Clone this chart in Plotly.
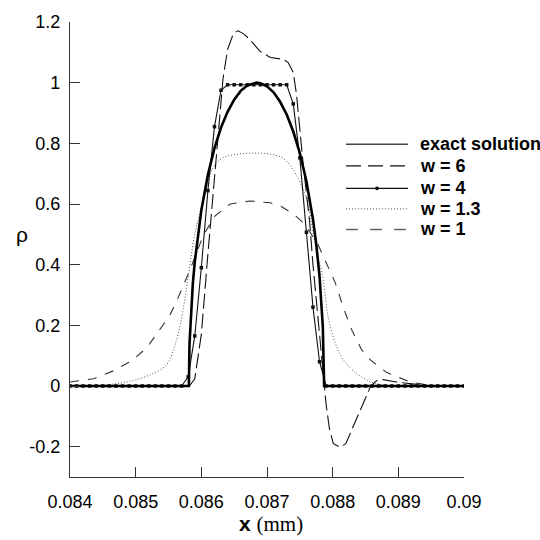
import plotly.graph_objects as go

# ---------------- data ----------------
exact_x = [0.084, 0.08581, 0.08582, 0.08584, 0.08587, 0.0859, 0.08595, 0.086, 0.0861, 0.0862,
           0.0863, 0.0864, 0.0865, 0.0866, 0.0867, 0.0868, 0.08684, 0.0869, 0.087, 0.0871,
           0.0872, 0.0873, 0.0874, 0.0875, 0.0876, 0.0877, 0.08775, 0.0878, 0.08783, 0.08785,
           0.08787, 0.09]
exact_y = [0.0, 0.0, 0.139, 0.240, 0.336, 0.409, 0.503, 0.579, 0.696, 0.784,
           0.852, 0.904, 0.944, 0.973, 0.991, 0.999, 1.0, 0.998, 0.988, 0.968,
           0.937, 0.895, 0.839, 0.768, 0.675, 0.550, 0.468, 0.362, 0.276, 0.196,
           0.0, 0.0]

w6_x = [0.084, 0.0857, 0.0858, 0.0859, 0.086, 0.08606, 0.0861, 0.0862, 0.08623, 0.0863,
        0.08633, 0.0864, 0.08649, 0.08656, 0.08665, 0.08674, 0.08689, 0.08705, 0.08725, 0.08732,
        0.0874, 0.08745, 0.0875, 0.08755, 0.0876, 0.08765, 0.0877, 0.0878, 0.08787, 0.0879,
        0.08795, 0.08801, 0.08811, 0.0882, 0.0883, 0.0884, 0.0885, 0.08858, 0.08867, 0.08877,
        0.08897, 0.08923, 0.08943, 0.0897, 0.09]
w6_y = [0.0, 0.0, -0.005, 0.024, 0.17, 0.335, 0.435, 0.685, 0.765, 0.94,
        1.013, 1.11, 1.163, 1.171, 1.16, 1.142, 1.104, 1.083, 1.077, 1.067,
        1.034, 0.96, 0.84, 0.733, 0.636, 0.54, 0.40, 0.165, 0.0, -0.06,
        -0.14, -0.19, -0.202, -0.19, -0.14, -0.09, -0.04, 0.0, 0.018, 0.021,
        0.013, 0.007, 0.002, 0.0, 0.0]

w4_x = [0.0840, 0.0841, 0.0842, 0.0843, 0.0844, 0.0845, 0.0846, 0.0847, 0.0848, 0.0849,
        0.0850, 0.0851, 0.0852, 0.0853, 0.0854, 0.0855, 0.0856, 0.0857, 0.0858, 0.0859,
        0.0860, 0.0861, 0.0862, 0.0863, 0.0864, 0.0865, 0.0866, 0.0867, 0.0868, 0.0869,
        0.0870, 0.0871, 0.0872, 0.0873, 0.0874, 0.0875, 0.0876, 0.0877, 0.0878, 0.0879,
        0.0880, 0.0881, 0.0882, 0.0883, 0.0884, 0.0885, 0.0886, 0.0887, 0.0888, 0.0889,
        0.0890, 0.0891, 0.0892, 0.0893, 0.0894, 0.0895, 0.0896, 0.0897, 0.0898, 0.0899,
        0.0900]
w4_y = [0.0, 0.0, 0.0, 0.0, 0.0, 0.0, 0.0, 0.0, 0.0, 0.0,
        0.0, 0.0, 0.0, 0.0, 0.0, 0.0, 0.0, 0.0, 0.03, 0.165,
        0.39, 0.644, 0.855, 0.975, 0.993, 0.993, 0.993, 0.993, 0.993, 0.993,
        0.993, 0.993, 0.993, 0.993, 0.93, 0.752, 0.507, 0.26, 0.08, 0.0,
        0.0, 0.0, 0.0, 0.0, 0.0, 0.0, 0.0, 0.0, 0.0, 0.0,
        0.0, 0.0, 0.0, 0.0, 0.0, 0.0, 0.0, 0.0, 0.0, 0.0,
        0.0]

w13_x = [0.084, 0.0846, 0.0849, 0.0852, 0.08547, 0.08562, 0.08572, 0.0858, 0.0859, 0.08606,
         0.08618, 0.08631, 0.08651, 0.087, 0.08725, 0.0874, 0.08753, 0.08763, 0.0877, 0.08778,
         0.08783, 0.08788, 0.08793, 0.08804, 0.08816, 0.08834, 0.0885, 0.08862, 0.0888, 0.089,
         0.09]
w13_y = [0.0, 0.005, 0.015, 0.035, 0.07, 0.15, 0.25, 0.36, 0.50, 0.636,
         0.72, 0.75, 0.763, 0.766, 0.75, 0.712, 0.658, 0.594, 0.507, 0.42,
         0.38, 0.31, 0.228, 0.142, 0.088, 0.045, 0.022, 0.01, 0.003, 0.0,
         0.0]

w1_x = [0.084, 0.08436, 0.08466, 0.08494, 0.08517, 0.08537, 0.08552, 0.08565, 0.08583, 0.08603,
        0.08621, 0.08644, 0.08674, 0.08705, 0.0872, 0.0874, 0.08757, 0.08778, 0.08791, 0.08804,
        0.08816, 0.08829, 0.08844, 0.08858, 0.08882, 0.08918, 0.08948, 0.09]
w1_y = [0.013, 0.024, 0.05, 0.083, 0.126, 0.185, 0.233, 0.293, 0.384, 0.497,
        0.561, 0.60, 0.61, 0.604, 0.594, 0.567, 0.535, 0.465, 0.405, 0.340,
        0.26, 0.185, 0.12, 0.085, 0.045, 0.013, 0.002, 0.0]

legend_labels = ["exact solution", "w = 6", "w = 4", "w = 1.3", "w = 1"]

x_tickvals = [0.084, 0.085, 0.086, 0.087, 0.088, 0.089, 0.09]
x_ticktext = ["0.084", "0.085", "0.086", "0.087", "0.088", "0.089", "0.09"]
y_tickvals = [-0.2, 0, 0.2, 0.4, 0.6, 0.8, 1, 1.2]
y_ticktext = ["-0.2", "0", "0.2", "0.4", "0.6", "0.8", "1", "1.2"]

# ---------------- styles ----------------
FONT = "Liberation Sans, Arial, Helvetica, sans-serif"
styles = [
    dict(color="#000000", width=2.6, dash="solid"),          # exact
    dict(color="#111111", width=1.1, dash="15px,5px"),       # w = 6
    dict(color="#111111", width=1.1, dash="solid"),          # w = 4
    dict(color="#555555", width=1.0, dash="1px,2px"),        # w = 1.3
    dict(color="#333333", width=1.1, dash="9px,9px"),        # w = 1
]

fig = go.Figure()
fig.add_trace(go.Scatter(x=w1_x, y=w1_y, mode="lines", line=styles[4], showlegend=False,
                         name=legend_labels[4]))
fig.add_trace(go.Scatter(x=w13_x, y=w13_y, mode="lines", line=styles[3], showlegend=False,
                         name=legend_labels[3], line_shape="spline"))
fig.add_trace(go.Scatter(x=w6_x, y=w6_y, mode="lines", line=styles[1], showlegend=False,
                         name=legend_labels[1]))
fig.add_trace(go.Scatter(x=w4_x, y=w4_y, mode="lines+markers", line=styles[2],
                         marker=dict(symbol="square", size=3.5, color="#111111"),
                         showlegend=False, name=legend_labels[2]))
fig.add_trace(go.Scatter(x=exact_x, y=exact_y, mode="lines", line=styles[0], showlegend=False,
                         name=legend_labels[0]))

# ---------------- manual legend ----------------
L, W_PLOT, B, H_PLOT = 70, 394, 477, 465
def px_x(p):
    return (p - L) / W_PLOT
def px_y(p):
    return (B - p) / H_PLOT

leg_rows = [137, 159, 182, 203, 224]
leg_line_styles = [
    dict(color="#444444", width=1.6, dash="solid"),
    dict(color="#111111", width=1.1, dash="15px,7px"),
    dict(color="#111111", width=1.2, dash="solid"),
    dict(color="#555555", width=1.0, dash="1px,2px"),
    dict(color="#666666", width=1.4, dash="12px,12px"),
]
shapes = []
annotations = []
for row, lab, st in zip(leg_rows, legend_labels, leg_line_styles):
    shapes.append(dict(type="line", xref="paper", yref="paper",
                       x0=px_x(346), x1=px_x(408), y0=px_y(row), y1=px_y(row), line=st))
    annotations.append(dict(text="<b>%s</b>" % lab, xref="paper", yref="paper",
                            x=px_x(418), y=px_y(row), xanchor="left", yanchor="middle",
                            showarrow=False, font=dict(family=FONT, size=18, color="#000")))
# dot on the w = 4 legend line
shapes.append(dict(type="circle", xref="paper", yref="paper",
                   x0=px_x(375), x1=px_x(379), y0=px_y(184), y1=px_y(180),
                   fillcolor="#111111", line=dict(width=0)))

annotations.append(dict(text="ρ", xref="paper", yref="paper", x=px_x(22), y=px_y(229),
                        xanchor="center", yanchor="middle", showarrow=False,
                        font=dict(family=FONT, size=21, color="#000")))
annotations.append(dict(text="<b>x</b> <span style='font-family:Liberation Serif, Times New Roman, serif'>(mm)</span>",
                        xref="paper", yref="paper", x=px_x(271), y=px_y(525),
                        xanchor="center", yanchor="middle", showarrow=False,
                        font=dict(family=FONT, size=21, color="#000")))

fig.update_layout(
    width=540, height=540,
    margin=dict(l=70, r=76, t=12, b=63, pad=0),
    paper_bgcolor="white", plot_bgcolor="white",
    shapes=shapes, annotations=annotations,
    font=dict(family=FONT, size=18, color="#000"),
    showlegend=False,
)
fig.update_xaxes(range=[0.084, 0.09], tickvals=x_tickvals, ticktext=x_ticktext,
                 showgrid=False, zeroline=False, showline=True, linecolor="#333", linewidth=1.1,
                 ticks="inside", ticklen=10, tickwidth=1.1, tickcolor="#333",
                 ticklabelstandoff=8, tickfont=dict(family=FONT, size=18, color="#000"))
fig.update_yaxes(range=[-0.3, 1.2], tickvals=y_tickvals, ticktext=y_ticktext,
                 showgrid=False, zeroline=False, showline=True, linecolor="#333", linewidth=1.1,
                 ticks="inside", ticklen=10, tickwidth=1.1, tickcolor="#333",
                 ticklabelstandoff=5, tickfont=dict(family=FONT, size=18, color="#000"))

fig.write_html("out.html")
